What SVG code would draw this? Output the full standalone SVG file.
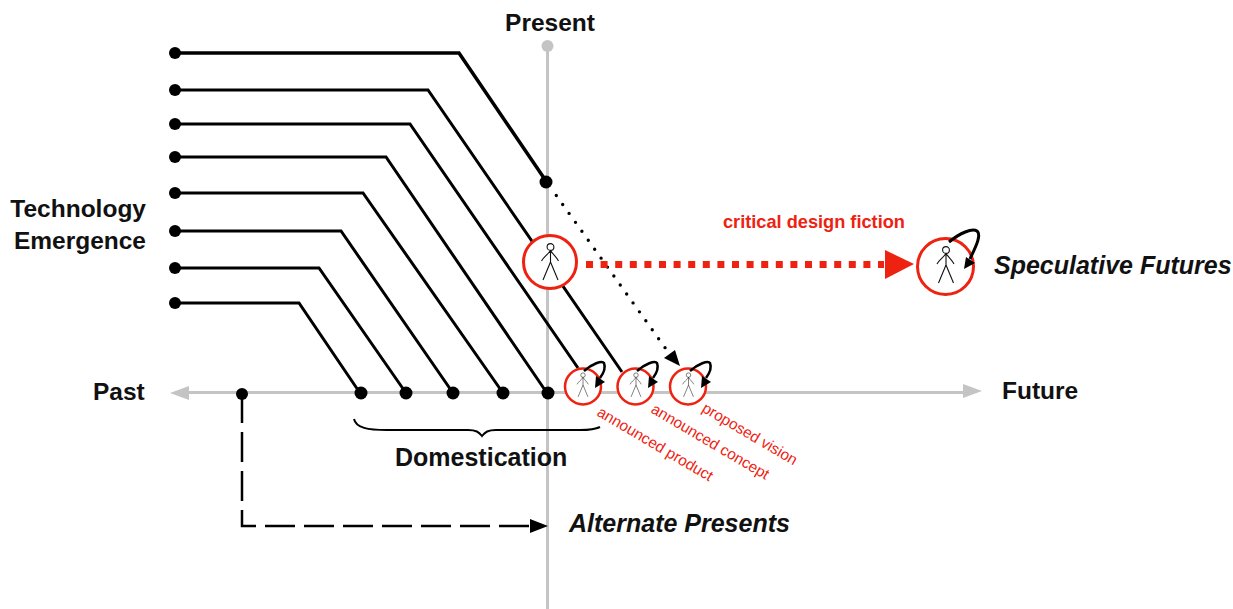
<svg xmlns="http://www.w3.org/2000/svg" width="1233" height="609" viewBox="0 0 1233 609">
<style>
text{font-family:"Liberation Sans",Arial,sans-serif;font-weight:700}
.lbl{font-size:24.500px;fill:#111}
.big{font-size:25px}
.it{font-style:italic}
.red{font-size:15.350px;fill:#ee2211;font-weight:400}
.tl{fill:none;stroke:#000;stroke-width:3;stroke-linejoin:miter}
.axis{fill:none;stroke:#c4c4c4;stroke-width:3}
.dot{fill:#000}
.ring{fill:#fff;stroke:#ee2211}
.fig{fill:none;stroke:#111}
.loop{fill:none;stroke:#000}
</style>
<defs>
<g id="person"><circle cx="0" cy="-15" r="3.400"/><path d="M0-11.600V0M0-11.500C-3-7-7-5-9-1M0-11.500C3-7 6-5 8-1M0 0L-7.500 18M0 0L7.500 18"/></g>
</defs>
<g id="axes">
<path class="axis" d="M180 392.500H970M547.500 46V609"/>
<path fill="#c4c4c4" d="M170 393L189 386V400ZM982 391L963 384V398Z"/>
<circle cx="547.500" cy="46" r="6" fill="#c4c4c4"/>
</g>
<g id="connectors">
<path class="tl" style="stroke-width:3.500" d="M175 53H459L546 181"/>
<path class="tl" d="M175 90H428L622 372"/>
<path class="tl" d="M175 124H410L578 368"/>
<path class="tl" d="M175 157H386L547 393"/>
<path class="tl" d="M175 193H363L503 393"/>
<path class="tl" d="M175 231H341L453 393"/>
<path class="tl" d="M175 268H319L406 393"/>
<path class="tl" d="M175 303H299L360 393"/>
<path fill="none" stroke="#000" stroke-width="3.400" stroke-linecap="round" stroke-dasharray="0 11" d="M556.300 195.500L666 349"/>
<path fill="#000" d="M664 358L675 350L680 366Z"/>
<path fill="none" stroke="#ee2211" stroke-width="7" stroke-dasharray="7 7.600" d="M586 264.500H884"/>
<path fill="#ee2211" d="M885 250L914 264L885 279Z"/>
<path fill="none" stroke="#000" stroke-width="2.500" stroke-dasharray="30 9" d="M242 393V526H536"/>
<path fill="#000" d="M530 519L548 526L530 533Z"/>
<path fill="none" stroke="#000" stroke-width="2" d="M354 419C356 428 368 430 387 430H468C476 430 479 432 482 436C485 432 488 430 496 430H580C590 430 596 429 600 427"/>
</g>
<g id="dots">
<circle class="dot" cx="175" cy="53" r="6"/><circle class="dot" cx="175" cy="90" r="6"/><circle class="dot" cx="175" cy="124" r="6"/><circle class="dot" cx="175" cy="157" r="6"/><circle class="dot" cx="175" cy="193" r="6"/><circle class="dot" cx="175" cy="231" r="6"/><circle class="dot" cx="175" cy="268" r="6"/><circle class="dot" cx="175" cy="303" r="6"/>
<circle class="dot" cx="546" cy="182" r="6.500"/>
<circle class="dot" cx="242" cy="394" r="6"/><circle class="dot" cx="361" cy="393" r="6.500"/><circle class="dot" cx="406" cy="393" r="6.500"/><circle class="dot" cx="453" cy="393" r="6.500"/><circle class="dot" cx="503" cy="393" r="6.500"/><circle class="dot" cx="548" cy="393" r="6.500"/>
</g>
<g id="node-present-person">
<circle class="ring" cx="550" cy="262" r="26.500" stroke-width="3"/>
<use href="#person" class="fig" stroke-width="1.100" x="550.500" y="262"/>
</g>
<g id="node-speculative-person">
<circle class="ring" cx="945.500" cy="266.500" r="28" stroke-width="3"/>
<use href="#person" class="fig" stroke-width="1.100" x="946" y="265"/>
<path class="loop" stroke-width="3" d="M949 242C960 233 972 228 977 231C982 235 975 248 970 259"/>
<path fill="#000" d="M964 269L966 257L975 263Z"/>
</g>
<g id="node-product">
<circle class="ring" cx="583" cy="386.500" r="18" stroke-width="2.500"/>
<use href="#person" class="fig" stroke-width=".8" transform="translate(583 385) scale(.66)"/>
<path class="loop" stroke-width="2.500" d="M584 371C592 364 602 360 604 363C606 368 603 374 600 378"/>
<path fill="#000" d="M595 388L596 376L605 382Z"/>
</g>
<g id="node-concept">
<circle class="ring" cx="635.500" cy="386.500" r="18" stroke-width="2.500"/>
<use href="#person" class="fig" stroke-width=".8" transform="translate(636 385) scale(.66)"/>
<path class="loop" stroke-width="2.500" d="M637 371C645 364 655 360 657 363C659 368 656 374 653 378"/>
<path fill="#000" d="M648 388L649 376L658 382Z"/>
</g>
<g id="node-vision">
<circle class="ring" cx="688" cy="386.500" r="18" stroke-width="2.500"/>
<use href="#person" class="fig" stroke-width=".8" transform="translate(688.500 385) scale(.66)"/>
<path class="loop" stroke-width="2.500" d="M690 371C698 364 708 360 710 363C712 368 709 374 706 378"/>
<path fill="#000" d="M701 388L702 376L711 382Z"/>
</g>
<g id="labels">
<text class="lbl" x="550" y="31" text-anchor="middle">Present</text>
<text class="lbl" x="146" y="217" text-anchor="end">Technology</text>
<text class="lbl" x="146" y="249" text-anchor="end">Emergence</text>
<text class="lbl" x="93" y="400">Past</text>
<text class="lbl" x="1002" y="399">Future</text>
<text class="lbl big" x="395" y="466">Domestication</text>
<text class="lbl big it" x="994" y="274">Speculative Futures</text>
<text class="lbl big it" x="569" y="532">Alternate Presents</text>
<text x="723" y="228" font-size="18.200" fill="#ee2211">critical design fiction</text>
<text class="red" transform="translate(596 415) rotate(30.500)">announced product</text>
<text class="red" transform="translate(650 412) rotate(30.500)">announced concept</text>
<text class="red" transform="translate(701 411) rotate(30.500)">proposed vision</text>
</g>
</svg>
